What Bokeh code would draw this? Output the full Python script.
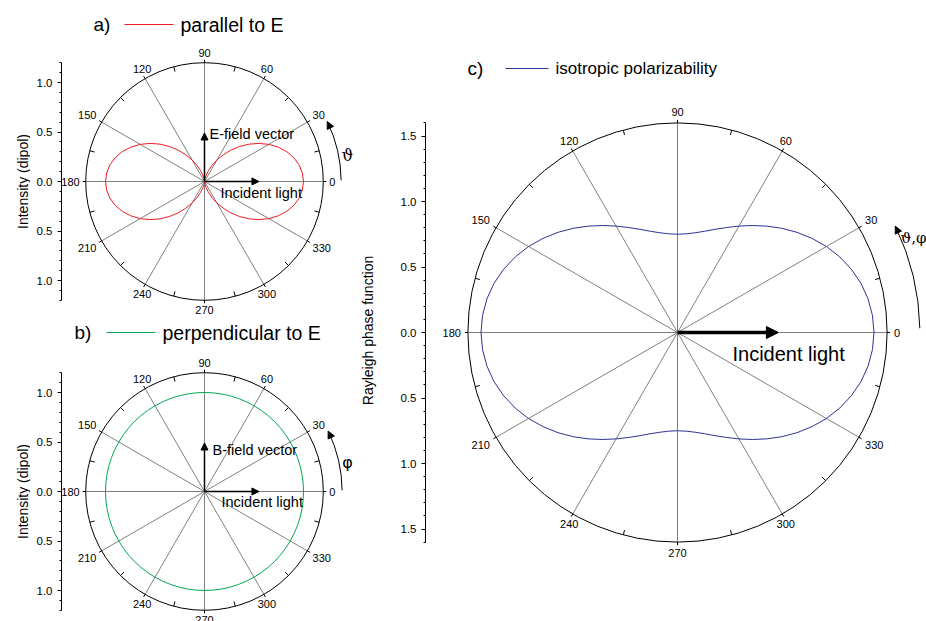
import math
from bokeh.plotting import figure
from bokeh.models import (Range1d, LinearAxis, FixedTicker, CustomJSTickFormatter,
                          Arrow, NormalHead)
from bokeh.layouts import row, column
from bokeh.embed import file_html
from bokeh.resources import INLINE
from bokeh.core.properties import value

# ---------------- data ----------------
angles_deg = [0, 5, 10, 15, 20, 25, 30, 35, 40, 45, 50, 55, 60, 65, 70, 75, 80, 85, 90,
              95, 100, 105, 110, 115, 120, 125, 130, 135, 140, 145, 150, 155, 160, 165, 170, 175, 180,
              185, 190, 195, 200, 205, 210, 215, 220, 225, 230, 235, 240, 245, 250, 255, 260, 265, 270,
              275, 280, 285, 290, 295, 300, 305, 310, 315, 320, 325, 330, 335, 340, 345, 350, 355, 360]
intensity_parallel = [1.000, 0.992, 0.970, 0.933, 0.883, 0.821, 0.750, 0.671, 0.587, 0.500,
                      0.413, 0.329, 0.250, 0.179, 0.117, 0.067, 0.030, 0.008, 0.000,
                      0.008, 0.030, 0.067, 0.117, 0.179, 0.250, 0.329, 0.413, 0.500,
                      0.587, 0.671, 0.750, 0.821, 0.883, 0.933, 0.970, 0.992, 1.000,
                      0.992, 0.970, 0.933, 0.883, 0.821, 0.750, 0.671, 0.587, 0.500,
                      0.413, 0.329, 0.250, 0.179, 0.117, 0.067, 0.030, 0.008, 0.000,
                      0.008, 0.030, 0.067, 0.117, 0.179, 0.250, 0.329, 0.413, 0.500,
                      0.587, 0.671, 0.750, 0.821, 0.883, 0.933, 0.970, 0.992, 1.000]
intensity_perpendicular = [1.00, 1.00, 1.00, 1.00, 1.00, 1.00, 1.00, 1.00, 1.00, 1.00,
                           1.00, 1.00, 1.00, 1.00, 1.00, 1.00, 1.00, 1.00, 1.00,
                           1.00, 1.00, 1.00, 1.00, 1.00, 1.00, 1.00, 1.00, 1.00,
                           1.00, 1.00, 1.00, 1.00, 1.00, 1.00, 1.00, 1.00, 1.00,
                           1.00, 1.00, 1.00, 1.00, 1.00, 1.00, 1.00, 1.00, 1.00,
                           1.00, 1.00, 1.00, 1.00, 1.00, 1.00, 1.00, 1.00, 1.00,
                           1.00, 1.00, 1.00, 1.00, 1.00, 1.00, 1.00, 1.00, 1.00,
                           1.00, 1.00, 1.00, 1.00, 1.00, 1.00, 1.00, 1.00, 1.00]
rayleigh_phase = [1.500, 1.494, 1.477, 1.450, 1.412, 1.366, 1.313, 1.253, 1.190, 1.125,
                  1.060, 0.997, 0.938, 0.884, 0.838, 0.800, 0.773, 0.756, 0.750,
                  0.756, 0.773, 0.800, 0.838, 0.884, 0.938, 0.997, 1.060, 1.125,
                  1.190, 1.253, 1.313, 1.366, 1.412, 1.450, 1.477, 1.494, 1.500,
                  1.494, 1.477, 1.450, 1.412, 1.366, 1.313, 1.253, 1.190, 1.125,
                  1.060, 0.997, 0.938, 0.884, 0.838, 0.800, 0.773, 0.756, 0.750,
                  0.756, 0.773, 0.800, 0.838, 0.884, 0.938, 0.997, 1.060, 1.125,
                  1.190, 1.253, 1.313, 1.366, 1.412, 1.450, 1.477, 1.494, 1.500]

series_names = ["parallel to E", "perpendicular to E", "isotropic polarizability"]
series_colors = ["#ee1c24", "#00a651", "#2e3192"]

spoke_angles = [0, 30, 60, 90, 120, 150, 180, 210, 240, 270, 300, 330]
angle_tick_labels = ["0", "30", "60", "90", "120", "150", "180", "210", "240", "270", "300", "330"]
minor_angle_ticks = [15, 45, 75, 105, 135, 165, 195, 225, 255, 285, 315, 345]

radial_ticks_ab = [-1.0, -0.5, 0.0, 0.5, 1.0]
radial_minor_ab = [-1.2, -1.1, -1.0, -0.9, -0.8, -0.7, -0.6, -0.5, -0.4, -0.3, -0.2, -0.1, 0.0,
                   0.1, 0.2, 0.3, 0.4, 0.5, 0.6, 0.7, 0.8, 0.9, 1.0, 1.1, 1.2]
radial_ticks_c = [-1.5, -1.0, -0.5, 0.0, 0.5, 1.0, 1.5]
radial_minor_c = [-1.6, -1.5, -1.4, -1.3, -1.2, -1.1, -1.0, -0.9, -0.8, -0.7, -0.6, -0.5, -0.4,
                  -0.3, -0.2, -0.1, 0.0, 0.1, 0.2, 0.3, 0.4, 0.5, 0.6, 0.7, 0.8, 0.9, 1.0,
                  1.1, 1.2, 1.3, 1.4, 1.5, 1.6]

FONT = "Liberation Sans"
SERIF = "DejaVu Serif"

# label alignments for angle labels (style)
ALIGN = [("left", "middle"), ("left", "bottom"), ("center", "bottom"), ("center", "bottom"),
         ("center", "bottom"), ("right", "bottom"), ("right", "middle"), ("right", "top"),
         ("center", "top"), ("center", "top"), ("center", "top"), ("left", "top")]


def cs(a):
    return math.cos(math.radians(a)), math.sin(math.radians(a))


def title_strip(w, h, tx, ty, text, size):
    """narrow figure that carries the rotated axis title"""
    p = figure(frame_width=w, frame_height=h, x_range=Range1d(0, w), y_range=Range1d(0, h),
               x_axis_location=None, y_axis_location=None, toolbar_location=None,
               output_backend="svg", min_border_left=0, min_border_right=0,
               min_border_top=0, min_border_bottom=0, outline_line_color=None)
    p.grid.visible = False
    p.text(x=[tx], y=[h - ty], text=[text], angle=math.pi / 2, text_font=value(FONT),
           text_font_size=value(size), text_align="center", text_baseline="middle",
           text_color="black")
    return p


def make_panel(cw, ch, bl, cx, cy, s, rmax, ticks, minor, tick_font_size, label_gap):
    p = figure(frame_width=cw - bl, frame_height=ch,
               x_range=Range1d((bl - cx) / s, (cw - cx) / s),
               y_range=Range1d(-(ch - cy) / s, cy / s),
               x_axis_location=None, y_axis_location=None,
               toolbar_location=None, output_backend="svg",
               min_border_left=bl, min_border_right=0, min_border_top=0, min_border_bottom=0,
               outline_line_color=None)
    p.grid.visible = False
    ax = LinearAxis(bounds=(-rmax, rmax),
                    ticker=FixedTicker(ticks=ticks, minor_ticks=minor),
                    formatter=CustomJSTickFormatter(code="return Math.abs(tick).toFixed(1)"),
                    major_label_text_font=FONT, major_label_text_font_size=tick_font_size,
                    major_label_text_color="black", major_label_standoff=5,
                    major_tick_out=4, major_tick_in=0, minor_tick_out=2, minor_tick_in=0,
                    axis_line_color="black", major_tick_line_color="black",
                    minor_tick_line_color="black")
    p.add_layout(ax, "left")

    # spokes
    xs1 = [rmax * cs(a)[0] for a in spoke_angles]
    ys1 = [rmax * cs(a)[1] for a in spoke_angles]
    p.segment(x0=[0] * len(xs1), y0=[0] * len(ys1), x1=xs1, y1=ys1,
              line_color="#808080", line_width=1)
    # outer circle
    p.circle(x=[0], y=[0], radius=rmax, fill_color=None, line_color="black", line_width=1)
    # major ticks (outward) and minor ticks (inward)
    o = 3.0 / s
    p.segment(x0=[rmax * cs(a)[0] for a in spoke_angles], y0=[rmax * cs(a)[1] for a in spoke_angles],
              x1=[(rmax + o) * cs(a)[0] for a in spoke_angles], y1=[(rmax + o) * cs(a)[1] for a in spoke_angles],
              line_color="black", line_width=1)
    i = 5.0 / s
    p.segment(x0=[rmax * cs(a)[0] for a in minor_angle_ticks], y0=[rmax * cs(a)[1] for a in minor_angle_ticks],
              x1=[(rmax - i) * cs(a)[0] for a in minor_angle_ticks], y1=[(rmax - i) * cs(a)[1] for a in minor_angle_ticks],
              line_color="black", line_width=1)
    # angle labels
    rl = rmax + label_gap / s
    for a, lab, (al, bs) in zip(spoke_angles, angle_tick_labels, ALIGN):
        c, sn = cs(a)
        p.text(x=[rl * c], y=[rl * sn], text=[lab], text_font=value(FONT),
               text_font_size=value("11px"), text_align=al, text_baseline=bs, text_color="black")
    return p


def txt(p, s, dx, dy, text, size, align="left", baseline="middle", font=FONT):
    p.text(x=[dx / s], y=[dy / s], text=[text], text_font=value(font), text_font_size=value(size),
           text_align=align, text_baseline=baseline, text_color="black")


def curve(p, radii, color):
    xs = [r * cs(a)[0] for a, r in zip(angles_deg, radii)]
    ys = [r * cs(a)[1] for a, r in zip(angles_deg, radii)]
    return p.line(xs, ys, line_color=color, line_width=1)


def legend_row(p, s, tag_x, x0, x1, y, text_x, tag, label, color, size, tag_size):
    """panel tag + legend sample line + series name (px offsets from the polar centre)"""
    txt(p, s, tag_x, y, tag, tag_size)
    p.segment(x0=[x0 / s], y0=[y / s], x1=[x1 / s], y1=[y / s], line_color=color, line_width=1)
    txt(p, s, text_x, y, label, size)


def rot_arrow(p, r, a0, a1, size=7):
    p.arc(x=[0], y=[0], radius=r, start_angle=math.radians(a0), end_angle=math.radians(a1),
          direction="anticlock", line_color="black", line_width=1)
    c, sn = cs(a1)
    tx, ty = r * c, r * sn
    d = 0.03
    p.add_layout(Arrow(x_start=tx + d * sn, y_start=ty - d * c, x_end=tx, y_end=ty,
                       line_alpha=0,
                       end=NormalHead(size=size, fill_color="black", line_color="black", line_width=1)))


def straight_arrow(p, x1, y1, lw, size):
    p.add_layout(Arrow(x_start=0, y_start=0, x_end=x1, y_end=y1, line_width=lw, line_color="black",
                       end=NormalHead(size=size, fill_color="black", line_color="black", line_width=1)))


LEFT_W = 356
STRIP_AB = 30
STRIP_C = 24

# ---------------- panel a ----------------
SA = 99
ta = title_strip(STRIP_AB, 318, 22, 181, "Intensity (dipol)", "14px")
pa = make_panel(LEFT_W - STRIP_AB, 318, 61 - STRIP_AB, 204 - STRIP_AB, 181, SA, 1.2,
                radial_ticks_ab, radial_minor_ab, "11.5px", 6)
curve(pa, intensity_parallel, series_colors[0])
straight_arrow(pa, 0.55, 0.0, 1.5, 7)
straight_arrow(pa, 0.0, 0.49, 1.5, 7)
txt(pa, SA, 5, 48, "E-field vector", "14.5px")
txt(pa, SA, 16, -11, "Incident light", "14.5px")
rot_arrow(pa, 1.38, 0.5, 26)
txt(pa, SA, 143, 26, "\u03d1", "16px", align="center", font=SERIF)
legend_row(pa, SA, -111, -80, -31, 157, -24, "a)", series_names[0], series_colors[0],
           "19.5px", "19px")

# ---------------- panel b ----------------
tb = title_strip(STRIP_AB, 303, 22, 173, "Intensity (dipol)", "14px")
pb = make_panel(LEFT_W - STRIP_AB, 303, 61 - STRIP_AB, 204 - STRIP_AB, 173, SA, 1.2,
                radial_ticks_ab, radial_minor_ab, "11.5px", 6)
curve(pb, intensity_perpendicular, series_colors[1])
straight_arrow(pb, 0.55, 0.0, 1.5, 7)
straight_arrow(pb, 0.0, 0.49, 1.5, 7)
txt(pb, SA, 8, 42, "B-field vector", "14.5px")
txt(pb, SA, 17, -10, "Incident light", "14.5px")
rot_arrow(pb, 1.39, 0.5, 26)
txt(pb, SA, 143, 29, "\u03c6", "16px", align="center", font="DejaVu Sans")
legend_row(pb, SA, -130, -98, -49, 159, -42, "b)", series_names[1], series_colors[1],
           "19.5px", "19px")

# ---------------- panel c ----------------
SC = 131
tc = title_strip(STRIP_C, 621, 367 - LEFT_W, 330, "Rayleigh phase function", "14px")
c0 = LEFT_W + STRIP_C
pc = make_panel(926 - c0, 621, 425 - c0, 677 - c0, 332, SC, 1.6,
                radial_ticks_c, radial_minor_c, "11.5px", 7)
curve(pc, rayleigh_phase, series_colors[2])
straight_arrow(pc, 0.77, 0.0, 3.5, 12)
txt(pc, SC, 55, -21, "Incident light", "20px")
rot_arrow(pc, 1.85, 1, 26)
txt(pc, SC, 223, 95, "\u03d1,\u03c6", "15px", font=SERIF)
legend_row(pc, SC, -210, -172, -129, 264, -122, "c)", series_names[2], series_colors[2],
           "17px", "19px")

layout = row(column(row(ta, pa), row(tb, pb)), row(tc, pc))
open("out.html", "w").write(file_html(layout, INLINE))
